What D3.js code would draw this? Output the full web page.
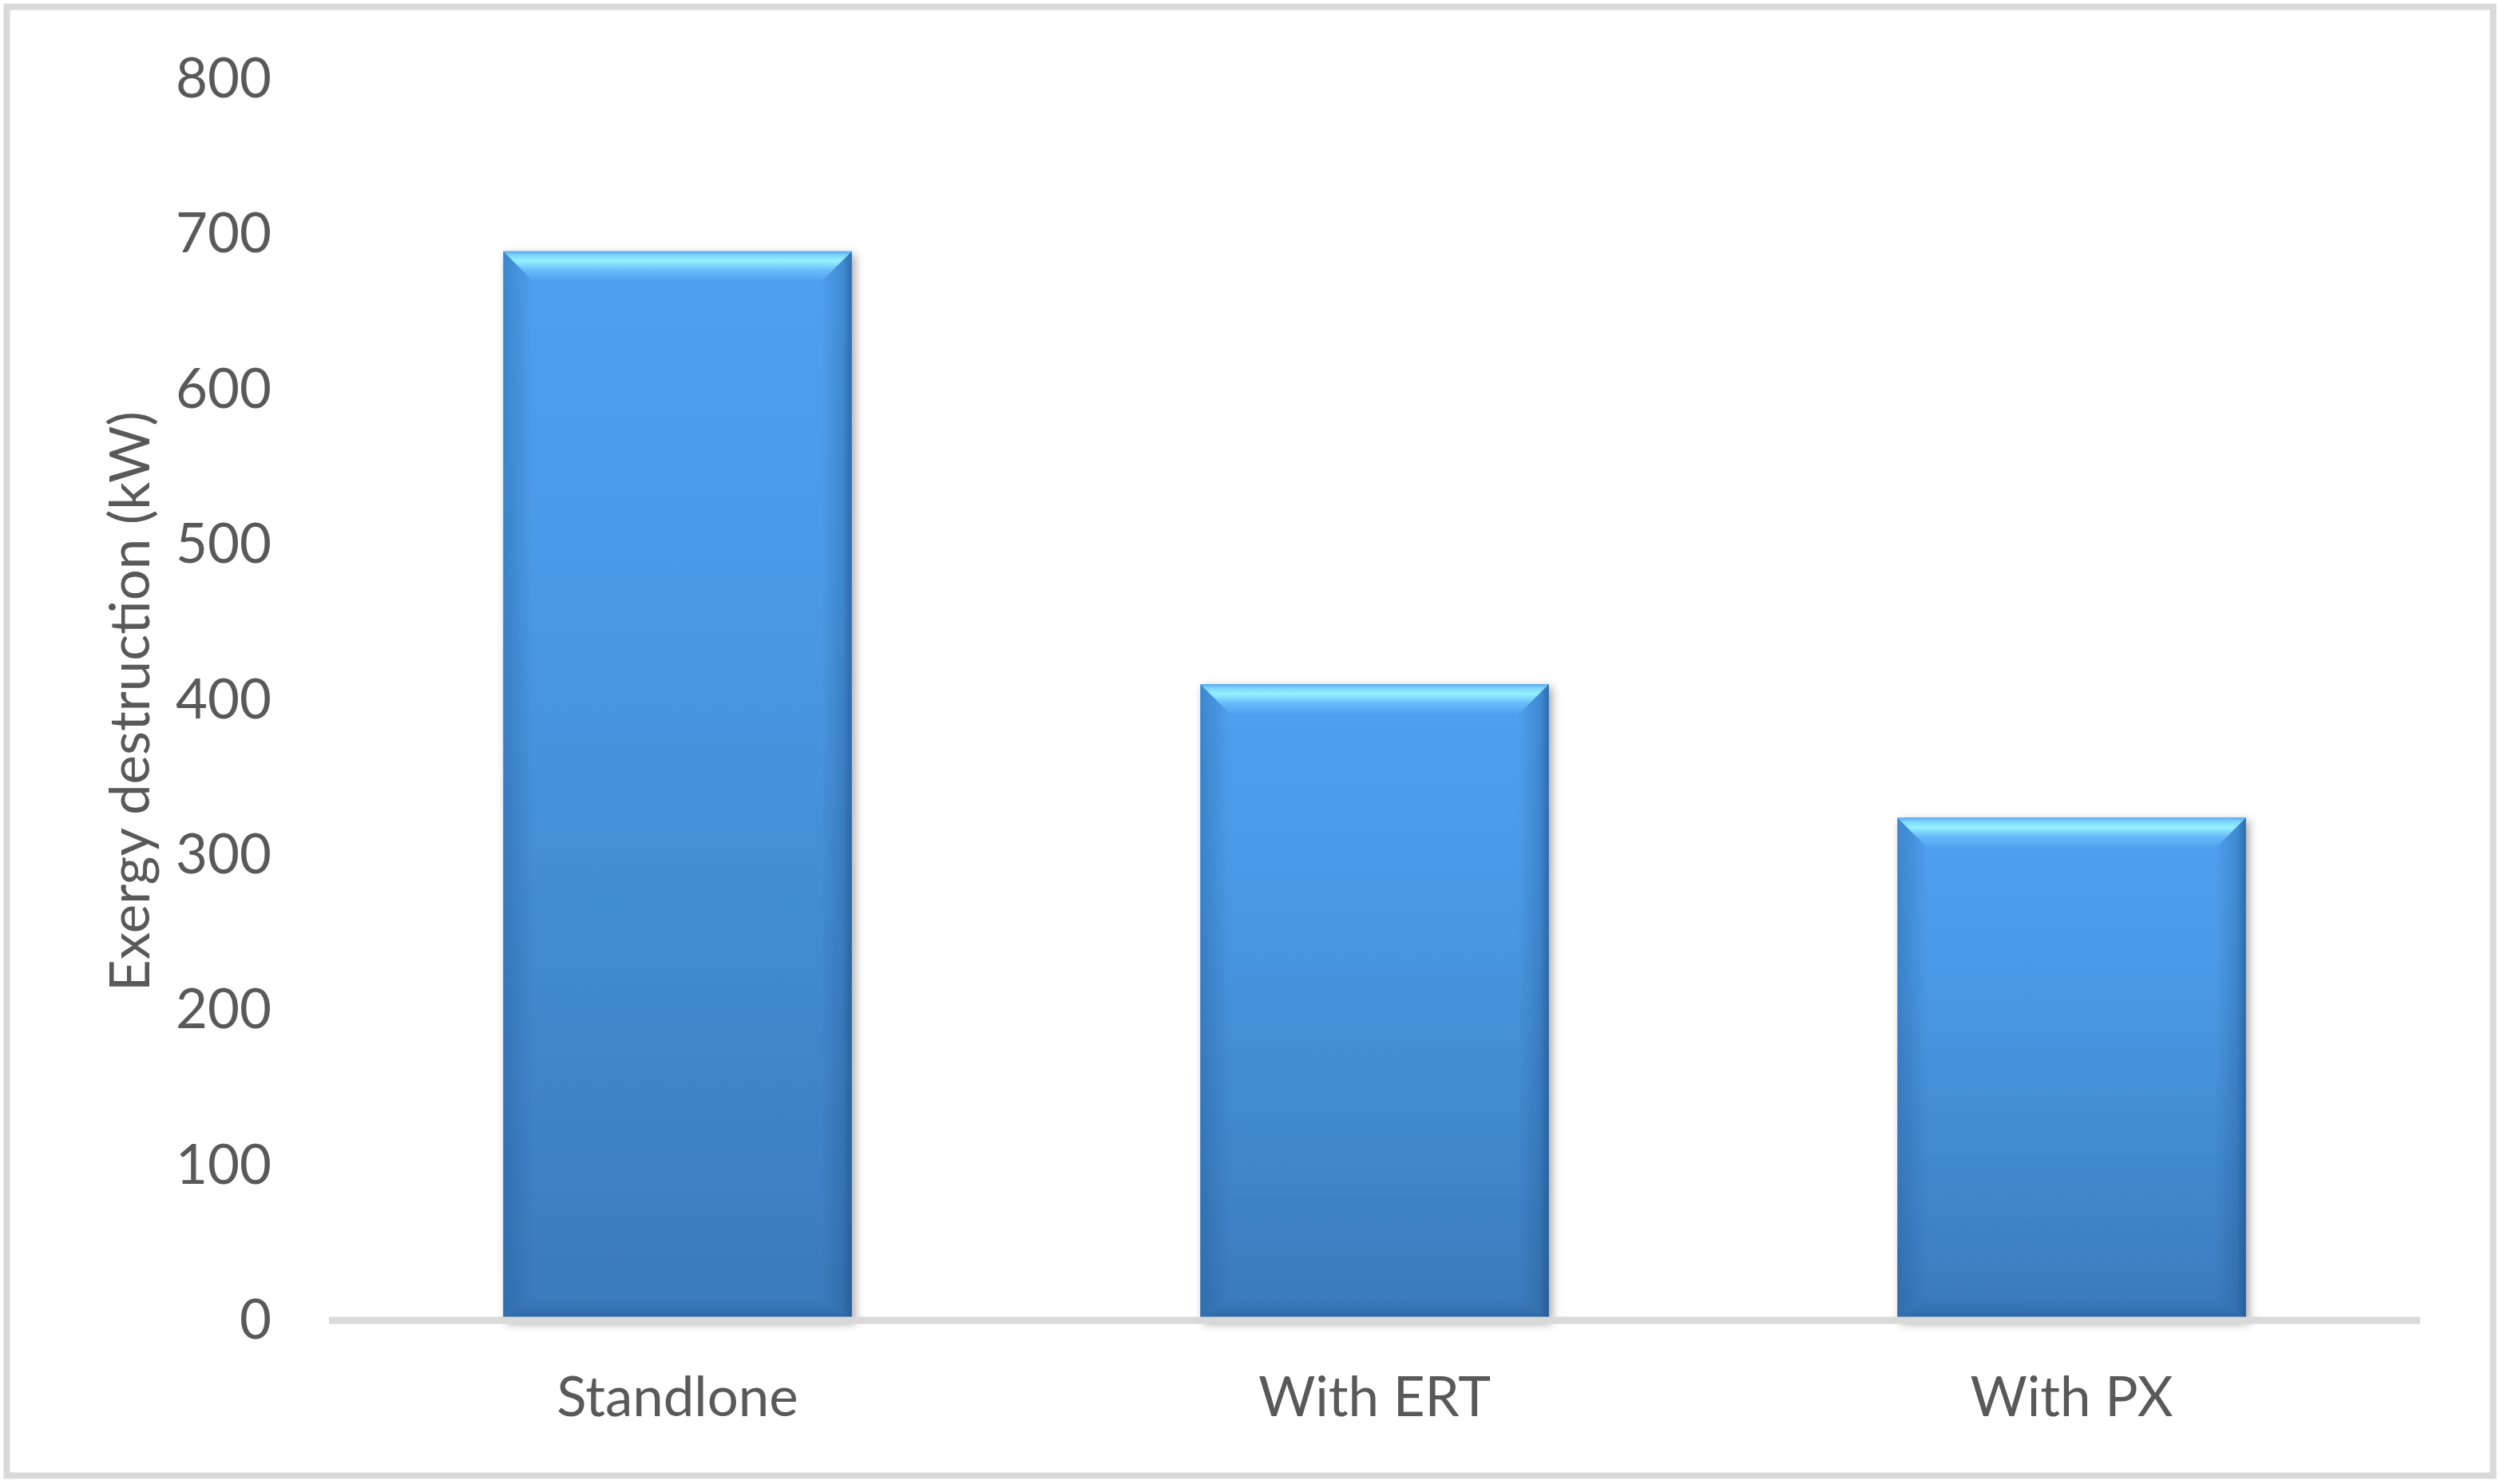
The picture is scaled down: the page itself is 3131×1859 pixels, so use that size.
<!DOCTYPE html>
<html>
<head>
<meta charset="utf-8">
<script src="https://cdn.jsdelivr.net/npm/d3@7"></script>
<style>
  html, body { margin: 0; padding: 0; background: #fff; }
  svg text { font-family: Lato, "Open Sans", sans-serif; fill: #595959; }
</style>
</head>
<body>
<div id="chart"></div>
<script>
// chart values
const categories = ['Standlone', 'With ERT', 'With PX'];
const values = [689, 410, 324];
const yTicks = [0, 100, 200, 300, 400, 500, 600, 700, 800];
const yTitle = 'Exergy destruction (kW)';

const width = 3131;
const height = 1859;
const margin = { top: 99, right: 100, bottom: 205, left: 412 };
const fontSize = 69;

const plot = {
  left: margin.left,
  right: width - margin.right,
  top: margin.top,
  bottom: height - margin.bottom
};

const svg = d3.select('#chart')
  .append('svg')
  .attr('width', width)
  .attr('height', height);

const defs = svg.append('defs');

// soft drop shadow behind bars
const shadow = defs.append('filter')
  .attr('id', 'barShadow')
  .attr('x', '-10%').attr('y', '-10%')
  .attr('width', '130%').attr('height', '130%');
shadow.append('feDropShadow')
  .attr('dx', 4).attr('dy', 4)
  .attr('stdDeviation', 6)
  .attr('flood-color', '#000')
  .attr('flood-opacity', 0.35);

function gradient(id, vertical, stops) {
  const g = defs.append('linearGradient')
    .attr('id', id)
    .attr('x1', 0).attr('y1', 0)
    .attr('x2', vertical ? 0 : 1)
    .attr('y2', vertical ? 1 : 0);
  stops.forEach(([o, c, a]) => {
    g.append('stop').attr('offset', o).attr('stop-color', c).attr('stop-opacity', a ?? 1);
  });
}

gradient('barFill', true, [[0, '#4ea1ef'], [0.3, '#4a9ae6'], [1, '#3a7abb']]);
gradient('bevelTop', true, [[0, '#5aa8f0'], [0.12, '#7cd2fd'], [0.32, '#95f2ff'], [0.62, '#68bcfa'], [1, '#4fa0ee']]);
gradient('bevelLeft', false, [[0, '#1f5590', 0.35], [1, '#1f5590', 0]]);
gradient('bevelRight', false, [[0, '#1a4a80', 0], [0.7, '#1a4a80', 0.25], [1, '#1a4a80', 0.6]]);
gradient('bevelBottom', true, [[0, '#1a4a80', 0], [1, '#1a4a80', 0.4]]);

// outer frame
svg.append('rect')
  .attr('x', 8.5).attr('y', 8.5)
  .attr('width', width - 17).attr('height', height - 19)
  .attr('fill', 'none')
  .attr('stroke', '#d9d9d9')
  .attr('stroke-width', 8);

const xScale = d3.scaleBand()
  .domain(categories)
  .range([plot.left, plot.right])
  .paddingInner(0.5)
  .paddingOuter(0.25);

const yScale = d3.scaleLinear()
  .domain([0, 800])
  .range([plot.bottom, plot.top]);

// y tick labels
svg.append('g')
  .selectAll('text')
  .data(yTicks)
  .join('text')
  .attr('x', plot.left - 72)
  .attr('y', (d) => yScale(d) + 23)
  .attr('text-anchor', 'end')
  .attr('font-size', fontSize)
  .text((d) => d);

// y axis title
svg.append('text')
  .attr('transform', `translate(187, ${(plot.top + plot.bottom) / 2 + 2}) rotate(-90)`)
  .attr('text-anchor', 'middle')
  .attr('font-size', fontSize)
  .text(yTitle);

// bars
const data = categories.map((c, i) => ({ cat: c, value: values[i] }));
const bevel = 38;
const bevelBottom = 28;

const bars = svg.append('g').attr('class', 'bars')
  .selectAll('g')
  .data(data)
  .join('g');

bars.append('rect')
  .attr('x', (d) => xScale(d.cat))
  .attr('y', (d) => yScale(d.value))
  .attr('width', xScale.bandwidth())
  .attr('height', (d) => yScale(0) - yScale(d.value))
  .attr('fill', 'url(#barFill)')
  .attr('filter', 'url(#barShadow)');

function pts(arr) { return arr.map((p) => p.join(',')).join(' '); }

bars.append('polygon')
  .attr('fill', 'url(#bevelLeft)')
  .attr('points', (d) => {
    const x0 = xScale(d.cat), y0 = yScale(d.value), y1 = yScale(0);
    return pts([[x0, y0], [x0 + bevel, y0 + bevel], [x0 + bevel, y1 - bevelBottom], [x0, y1]]);
  });

bars.append('polygon')
  .attr('fill', 'url(#bevelRight)')
  .attr('points', (d) => {
    const x1 = xScale(d.cat) + xScale.bandwidth(), y0 = yScale(d.value), y1 = yScale(0);
    return pts([[x1, y0], [x1, y1], [x1 - bevel, y1 - bevelBottom], [x1 - bevel, y0 + bevel]]);
  });

bars.append('polygon')
  .attr('fill', 'url(#bevelBottom)')
  .attr('points', (d) => {
    const x0 = xScale(d.cat), x1 = x0 + xScale.bandwidth(), y1 = yScale(0);
    return pts([[x0, y1], [x0 + bevel, y1 - bevelBottom], [x1 - bevel, y1 - bevelBottom], [x1, y1]]);
  });

bars.append('polygon')
  .attr('fill', 'url(#bevelTop)')
  .attr('points', (d) => {
    const x0 = xScale(d.cat), x1 = x0 + xScale.bandwidth(), y0 = yScale(d.value);
    return pts([[x0, y0], [x1, y0], [x1 - bevel, y0 + bevel], [x0 + bevel, y0 + bevel]]);
  });

// category axis line
svg.append('line')
  .attr('x1', plot.left).attr('x2', plot.right)
  .attr('y1', yScale(0)).attr('y2', yScale(0))
  .attr('stroke', '#d9d9d9')
  .attr('stroke-width', 9);

// category labels
svg.append('g')
  .selectAll('text')
  .data(categories)
  .join('text')
  .attr('x', (d) => xScale(d) + xScale.bandwidth() / 2)
  .attr('y', yScale(0) + 120)
  .attr('text-anchor', 'middle')
  .attr('font-size', fontSize)
  .text((d) => d);
</script>
</body>
</html>
